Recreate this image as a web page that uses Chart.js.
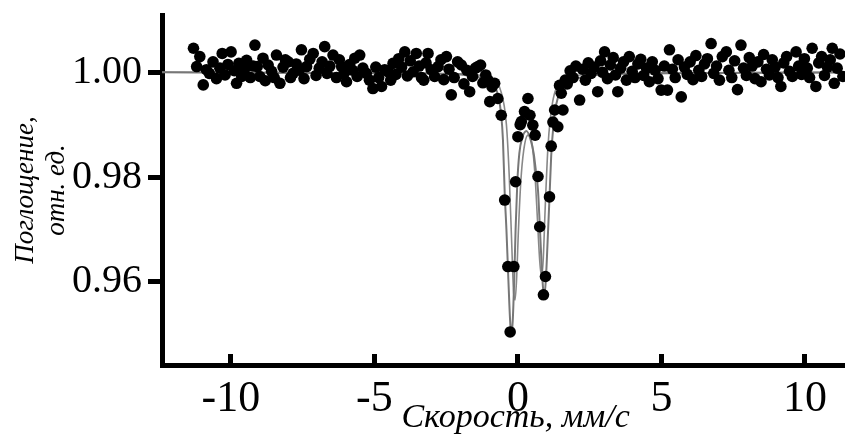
<!DOCTYPE html>
<html><head><meta charset="utf-8">
<script src="https://cdn.jsdelivr.net/npm/chart.js@4.4.1/dist/chart.umd.min.js"></script>
<style>html,body{margin:0;padding:0;background:#fff;overflow:hidden;width:845px;height:435px}canvas{display:block}</style>
</head><body>
<canvas id="c" width="875" height="435"></canvas>
<script>
// Measured points [velocity mm/s, absorption]
const leftWing = [
[-11.30,1.0046],[-11.19,1.0011],[-11.08,1.0030],[-10.96,0.9976],[-10.85,1.0005],[-10.75,0.9998],[-10.62,1.0020],[-10.50,0.9988],
[-10.38,1.0008],[-10.30,1.0036],[-10.20,0.9995],[-10.10,1.0015],[-9.99,1.0039],[-9.88,1.0003],[-9.80,0.9979],[-9.72,1.0017],
[-9.62,0.9992],[-9.52,1.0006],[-9.45,1.0023],[-9.32,0.9990],[-9.22,1.0012],[-9.16,1.0052],[-9.08,1.0011],[-8.99,0.9992],
[-8.88,1.0027],[-8.80,0.9984],[-8.70,1.0014],[-8.58,1.0002],[-8.49,0.9990],[-8.41,1.0033],[-8.29,0.9979],[-8.18,1.0010],
[-8.10,1.0024],[-8.00,1.0020],[-7.92,0.9990],[-7.83,0.9998],[-7.72,1.0016],[-7.62,1.0004],[-7.54,1.0043],[-7.45,0.9988],
[-7.36,1.0011],[-7.25,1.0025],[-7.13,1.0036],[-7.03,0.9994],[-6.92,1.0008],[-6.82,1.0020],[-6.73,1.0049],[-6.65,0.9998],
[-6.55,1.0012],[-6.44,1.0033],[-6.32,0.9990],[-6.22,1.0024],[-6.14,1.0011],[-6.05,0.9998],[-5.97,0.9982],[-5.86,1.0015],
[-5.76,1.0004],[-5.68,1.0027],[-5.60,0.9992],[-5.51,1.0033],[-5.40,1.0008],[-5.28,0.9998],[-5.17,0.9985],[-5.05,0.9969],
[-4.95,1.0010],[-4.85,0.9990],[-4.75,0.9973],[-4.64,1.0005],[-4.52,1.0001],[-4.43,0.9985],[-4.35,1.0017],[-4.25,0.9996],
[-4.15,1.0026],[-4.05,1.0010],[-3.94,1.0039],[-3.85,0.9993],[-3.75,1.0022],[-3.65,1.0001],[-3.54,1.0036],[-3.44,1.0012],
[-3.36,0.9990],[-3.28,0.9985],[-3.20,1.0018],[-3.13,1.0036],[-3.02,1.0005],[-2.90,0.9992],[-2.78,1.0011],[-2.68,1.0024],
[-2.58,0.9986],[-2.49,1.0030],[-2.40,1.0006],[-2.32,0.9957],[-2.22,0.9990],[-2.10,1.0020],[-1.97,1.0014],[-1.88,0.9978],
[-1.78,1.0004],[-1.68,0.9963],[-1.58,0.9992],[-1.48,1.0008],[-1.39,1.0011],[-1.30,1.0014],[-1.22,0.9980],[-1.12,0.9995],
[-1.04,0.9985]
];
const dipPoints = [
[-0.98,0.9944],[-0.90,0.9972],[-0.81,0.9979],[-0.70,0.9950],[-0.58,0.9918],[-0.46,0.9756],[-0.35,0.9629],[-0.27,0.9504],
[-0.14,0.9629],[-0.08,0.9791],[0.00,0.9877],[0.08,0.9900],[0.12,0.9906],[0.23,0.9925],[0.35,0.9950],[0.42,0.9918],
[0.52,0.9899],[0.60,0.9880],[0.70,0.9801],[0.76,0.9705],[0.89,0.9575],[0.96,0.9610],[1.10,0.9762],[1.16,0.9859],
[1.22,0.9905],[1.28,0.9928],[1.39,0.9896],[1.45,0.9975],[1.51,0.9960],[1.57,0.9928],[1.65,0.9985]
];
const rightWing = [
[1.72,0.9978],[1.82,1.0003],[1.92,0.9990],[2.02,1.0012],[2.15,0.9947],[2.25,1.0006],[2.35,0.9985],[2.45,1.0018],
[2.55,0.9998],[2.65,1.0010],[2.78,0.9963],[2.88,1.0022],[2.95,1.0000],[3.02,1.0039],[3.12,0.9988],[3.22,1.0014],
[3.32,1.0028],[3.40,0.9995],[3.48,0.9963],[3.58,1.0008],[3.68,1.0020],[3.78,0.9985],[3.88,1.0030],[3.98,1.0002],
[4.08,0.9990],[4.18,1.0016],[4.28,1.0025],[4.38,0.9994],[4.48,1.0008],[4.58,0.9982],[4.68,1.0020],[4.78,1.0004],
[4.88,0.9988],[4.99,0.9966],[5.10,1.0012],[5.21,0.9966],[5.28,1.0043],[5.38,1.0006],[5.48,0.9990],[5.58,1.0024],
[5.69,0.9953],[5.80,1.0010],[5.90,0.9996],[6.00,1.0020],[6.10,0.9986],[6.20,1.0032],[6.30,1.0004],[6.40,0.9992],
[6.50,1.0016],[6.60,1.0026],[6.73,1.0055],[6.82,0.9998],[6.92,1.0012],[7.02,0.9985],[7.12,1.0030],[7.26,1.0039],
[7.35,1.0004],[7.45,0.9990],[7.55,1.0022],[7.65,0.9967],[7.77,1.0052],[7.86,1.0008],[7.96,0.9994],[8.06,1.0028],
[8.16,1.0012],[8.26,0.9988],[8.36,1.0020],[8.47,0.9982],[8.56,1.0034],[8.66,1.0006],[8.76,0.9995],[8.86,1.0024],
[8.96,1.0010],[9.06,0.9990],[9.16,0.9973],[9.26,1.0018],[9.36,1.0030],[9.46,1.0002],[9.56,0.9992],[9.69,1.0039],
[9.78,1.0012],[9.88,0.9996],[9.98,1.0026],[10.08,1.0008],[10.16,0.9990],[10.25,1.0046],[10.38,0.9973],[10.48,1.0018],
[10.58,1.0030],[10.68,0.9994],[10.78,1.0010],[10.88,1.0024],[10.95,1.0046],[11.02,0.9979],[11.12,1.0008],[11.22,1.0035],
[11.32,0.9992]
];
// Fit curves [velocity, absorption]
const envelopeFit = [
[-12.4,1.0000],[-3.0,0.9998],[-2.0,0.9996],[-1.5,0.9992],[-1.0,0.9984],[-0.81,0.9972],[-0.70,0.9958],[-0.58,0.9918],
[-0.52,0.9870],[-0.46,0.9770],[-0.40,0.9700],[-0.35,0.9630],[-0.30,0.9560],[-0.26,0.9515],[-0.22,0.9500],[-0.18,0.9525],
[-0.13,0.9600],[-0.08,0.9700],[-0.02,0.9790],[0.05,0.9845],[0.15,0.9875],[0.30,0.9888],[0.45,0.9870],[0.55,0.9845],
[0.63,0.9810],[0.70,0.9775],[0.76,0.9710],[0.82,0.9640],[0.88,0.9585],[0.92,0.9575],[0.97,0.9600],[1.03,0.9670],
[1.10,0.9760],[1.16,0.9840],[1.24,0.9900],[1.34,0.9940],[1.50,0.9965],[1.80,0.9982],[2.50,0.9993],[4.00,0.9998],[12.4,1.0000]
];
const innerFit = [
[-12.4,1.0000],[-2.0,0.9997],[-1.0,0.9990],[-0.6,0.9965],[-0.4,0.9900],[-0.3,0.9800],[-0.22,0.9680],[-0.15,0.9580],
[-0.10,0.9565],[-0.05,0.9600],[0.02,0.9700],[0.10,0.9790],[0.20,0.9850],[0.35,0.9880],[0.50,0.9860],[0.60,0.9800],
[0.68,0.9720],[0.76,0.9640],[0.82,0.9610],[0.88,0.9640],[0.95,0.9740],[1.05,0.9860],[1.20,0.9940],[1.50,0.9980],
[2.5,0.9996],[12.4,1.0000]
];
const xTickValues = [-10, -5, 0, 5, 10];
const yTickValues = [0.96, 0.98, 1.00];
const xTitle = 'Скорость, мм/с';
const yTitle = ['Поглощение,', 'отн. ед.'];

const toXY = arr => arr.map(p => ({x: p[0], y: p[1]}));
const serif = '"Liberation Serif", "Times New Roman", serif';
const noScalePad = s => { s.paddingTop = 0; s.paddingBottom = 0; s.paddingLeft = 0; s.paddingRight = 0; };

new Chart(document.getElementById('c'), {
  type: 'scatter',
  data: { datasets: [
    { label: 'data', data: toXY([...leftWing, ...dipPoints, ...rightWing]), backgroundColor: '#000', borderColor: '#000',
      borderWidth: 0, pointRadius: 5.8, order: 0 },
    { label: 'fit', data: toXY(envelopeFit), showLine: true, borderColor: '#777', borderWidth: 2, pointRadius: 0,
      cubicInterpolationMode: 'monotone', order: 1 },
    { label: 'fit2', data: toXY(innerFit), showLine: true, borderColor: '#888', borderWidth: 1.6, pointRadius: 0,
      cubicInterpolationMode: 'monotone', order: 2 }
  ]},
  options: {
    responsive: false, animation: false, devicePixelRatio: 1,
    layout: { padding: { top: 15, right: 0, bottom: 0, left: 0 } },
    plugins: { legend: { display: false }, tooltip: { enabled: false } },
    scales: {
      x: {
        type: 'linear', position: 'bottom', min: -12.397, max: 12.237,
        afterFit: s => { s.height = 70; noScalePad(s); },
        afterBuildTicks: s => { s.ticks = xTickValues.map(v => ({value: v})); },
        border: { display: true, color: '#000', width: 5 },
        grid: { display: true, drawOnChartArea: false, drawTicks: true, tickLength: -11, tickWidth: 5, tickColor: '#000' },
        ticks: { color: '#000', font: { family: serif, size: 44 }, padding: 19, maxRotation: 0, autoSkip: false,
                 callback: v => String(v) },
        title: { display: true, text: xTitle, color: '#000',
                 font: { family: serif, size: 34, style: 'italic', lineHeight: 1.0 }, padding: { top: 0, bottom: 0 } }
      },
      y: {
        type: 'linear', position: 'left', min: 0.94409, max: 1.01095,
        afterFit: s => { s.width = 162; noScalePad(s); },
        afterBuildTicks: s => { s.ticks = yTickValues.map(v => ({value: v})); },
        border: { display: true, color: '#000', width: 5 },
        grid: { display: true, drawOnChartArea: false, drawTicks: true, tickLength: 14, tickWidth: 5, tickColor: '#000' },
        ticks: { color: '#000', font: { family: serif, size: 40 }, padding: 6, callback: v => v.toFixed(2) },
        title: { display: true, text: yTitle, color: '#000',
                 font: { family: serif, size: 27, style: 'italic', lineHeight: 1.15 }, padding: { top: 10.5, bottom: 0 } }
      }
    }
  },
  plugins: [{ id: 'bg', beforeDraw(c) { const ctx = c.ctx; ctx.save(); ctx.fillStyle = '#fff';
    ctx.fillRect(0, 0, c.width, c.height); ctx.restore(); } }]
});
</script>
</body></html>
